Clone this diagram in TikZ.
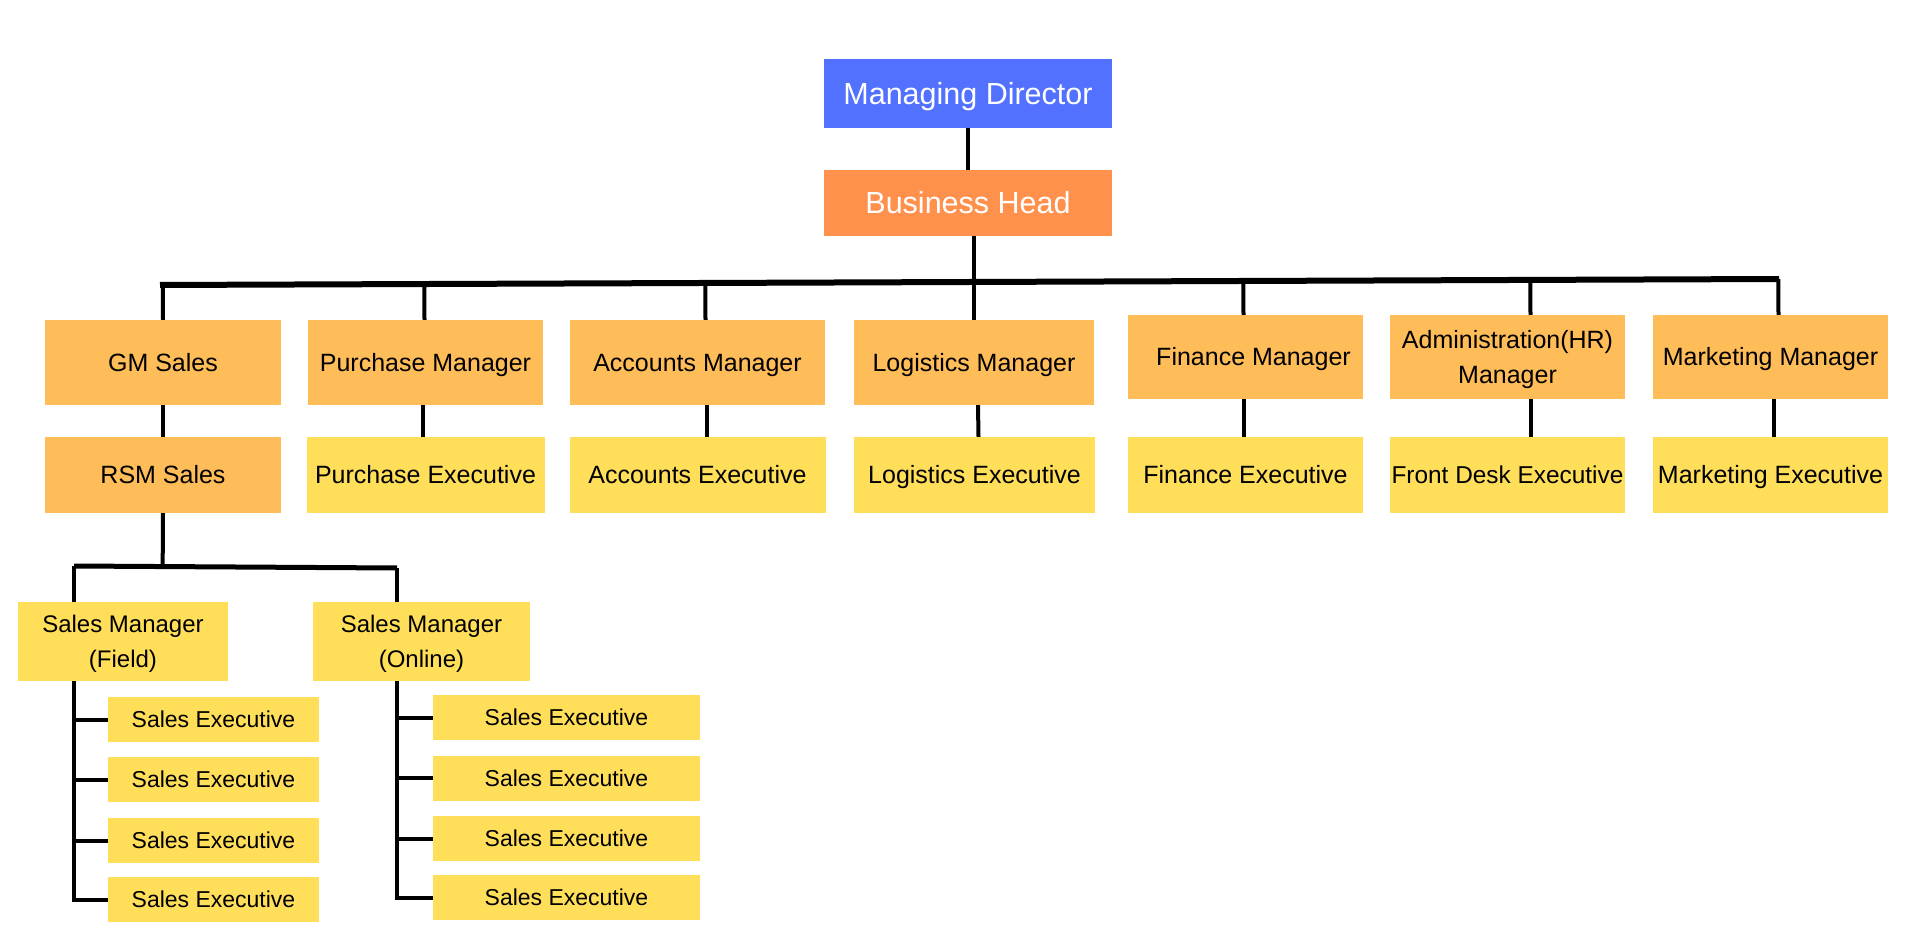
\documentclass[tikz,border=0pt]{standalone}
\usepackage{fontspec}
\setmainfont{Liberation Sans}
\usepackage{tikz}
\usetikzlibrary{calc}

\definecolor{mdblue}{HTML}{5271FF}
\definecolor{bhorange}{HTML}{FF914D}
\definecolor{mgrorange}{HTML}{FFBD59}
\definecolor{execyellow}{HTML}{FFDE59}

\begin{document}
\begin{tikzpicture}[x=1pt, y=-1pt,
    box/.style={rectangle, inner sep=0pt, align=center, text=black, text height=17.9pt, text depth=0pt, font=\fontsize{25}{35}\selectfont},
    twoline/.style={text height=#1, text depth=0pt},
    topbox/.style={box, text=white, minimum width=288, text height=21.8pt, font=\fontsize{30.5}{36}\selectfont},
    mgr/.style={box, fill=mgrorange, minimum height=85},
    exec/.style={box, fill=execyellow, minimum height=76},
    salesmgr/.style={box, fill=execyellow, minimum height=79, font=\fontsize{24}{35}\selectfont},
    salesx/.style={box, fill=execyellow, minimum height=45, text height=16.5pt, font=\fontsize{23}{28}\selectfont},
    link/.style={line width=4pt},
    bus/.style={line width=6pt},
    sbus/.style={line width=5pt}]
    \useasboundingbox (0,0) rectangle (1920,949);

    % Top of the chart
    \node[topbox, fill=mdblue, minimum height=69] (md) at (968,93.5) {Managing Director};
    \node[topbox, fill=bhorange, minimum height=66] (bh) at (968,203) {Business Head};

    % Managers
    \node[mgr, minimum width=236] (gm) at (163,362.5) {GM Sales};
    \node[mgr, minimum width=235] (pm) at (425.5,362.5) {Purchase Manager};
    \node[mgr, minimum width=255] (am) at (697.5,362.5) {Accounts Manager};
    \node[mgr, minimum width=240] (lm) at (974,362.5) {Logistics Manager};
    \node[mgr, minimum width=235, minimum height=84] (fm) at (1245.5,357) {\hspace{16pt}Finance Manager};
    \node[mgr, minimum width=235, minimum height=84, twoline=52.9pt] (hm) at (1507.5,357) {Administration(HR)\\Manager};
    \node[mgr, minimum width=235, minimum height=84] (mm) at (1770.5,357) {Marketing Manager};

    % Executives
    \node[exec, fill=mgrorange, minimum width=236] (rsm) at (163,475) {RSM Sales};
    \node[exec, minimum width=238] (pe) at (425.5,475) {Purchase Executive};
    \node[exec, minimum width=256] (ae) at (697.5,475) {Accounts Executive};
    \node[exec, minimum width=241] (le) at (974.5,475) {Logistics Executive};
    \node[exec, minimum width=235] (fe) at (1245.5,475) {Finance Executive};
    \node[exec, minimum width=235, text height=17.5pt, font=\fontsize{24.4}{35}\selectfont] (he) at (1507.5,475) {Front Desk Executive};
    \node[exec, minimum width=235] (me) at (1770.5,475) {Marketing Executive};

    % Sales managers
    \node[salesmgr, minimum width=210, twoline=52.2pt] (smf) at (123,641.5) {Sales Manager\\(Field)};
    \node[salesmgr, minimum width=217, twoline=52.2pt] (smo) at (421.5,641.5) {Sales Manager\\(Online)};

    % Sales executives
    \foreach \k/\y in {1/719.5, 2/779.5, 3/840.5, 4/899.5}
        \node[salesx, minimum width=211] (sf\k) at (213.5,\y) {Sales Executive};
    \foreach \k/\y in {1/717.5, 2/778, 3/838.5, 4/897.5}
        \node[salesx, minimum width=267] (so\k) at (566.5,\y) {Sales Executive};

    % Upper links
    \draw[link] (md.south) -- (bh.north);
    \draw[link] ([xshift=6]bh.south) -- (lm.north);
    \coordinate (busL) at (160,285);
    \coordinate (busR) at (1779,279);
    \draw[bus] (busL) -- (busR);
    \foreach \n/\dx in {gm/0, pm/-1, am/8, fm/-2, hm/23, mm/8}
        \draw[link] ([xshift=\dx]\n.north) -- ($(busL)!([xshift=\dx]\n.north)!(busR)$);

    % Manager to executive
    \foreach \m/\e/\dx in {gm/rsm/0, pm/pe/-3, am/ae/9, lm/le/4, fm/fe/-2, hm/he/23, mm/me/3}
        \draw[link] ([xshift=\dx]\m.south) -- ([xshift=\dx]\e.north);

    % Sales tree
    \coordinate (sbusL) at (74,566);
    \coordinate (sbusR) at (397,568);
    \draw[link] (rsm.south) -- ($(sbusL)!(rsm.south)!(sbusR)$);
    \draw[sbus] (sbusL) -- (sbusR);
    \draw[link] (sbusL) -- (sbusL |- smf.north);
    \draw[link] (sbusR) -- (sbusR |- smo.north);
    \draw[link] (sbusL |- smf.south) |- (sf4.west);
    \draw[link] (sbusR |- smo.south) |- (so4.west);
    \foreach \k in {1,2,3} {
        \draw[link] (sf\k.west) -- (sf\k.west -| sbusL);
        \draw[link] (so\k.west) -- (so\k.west -| sbusR);
    }
\end{tikzpicture}
\end{document}
